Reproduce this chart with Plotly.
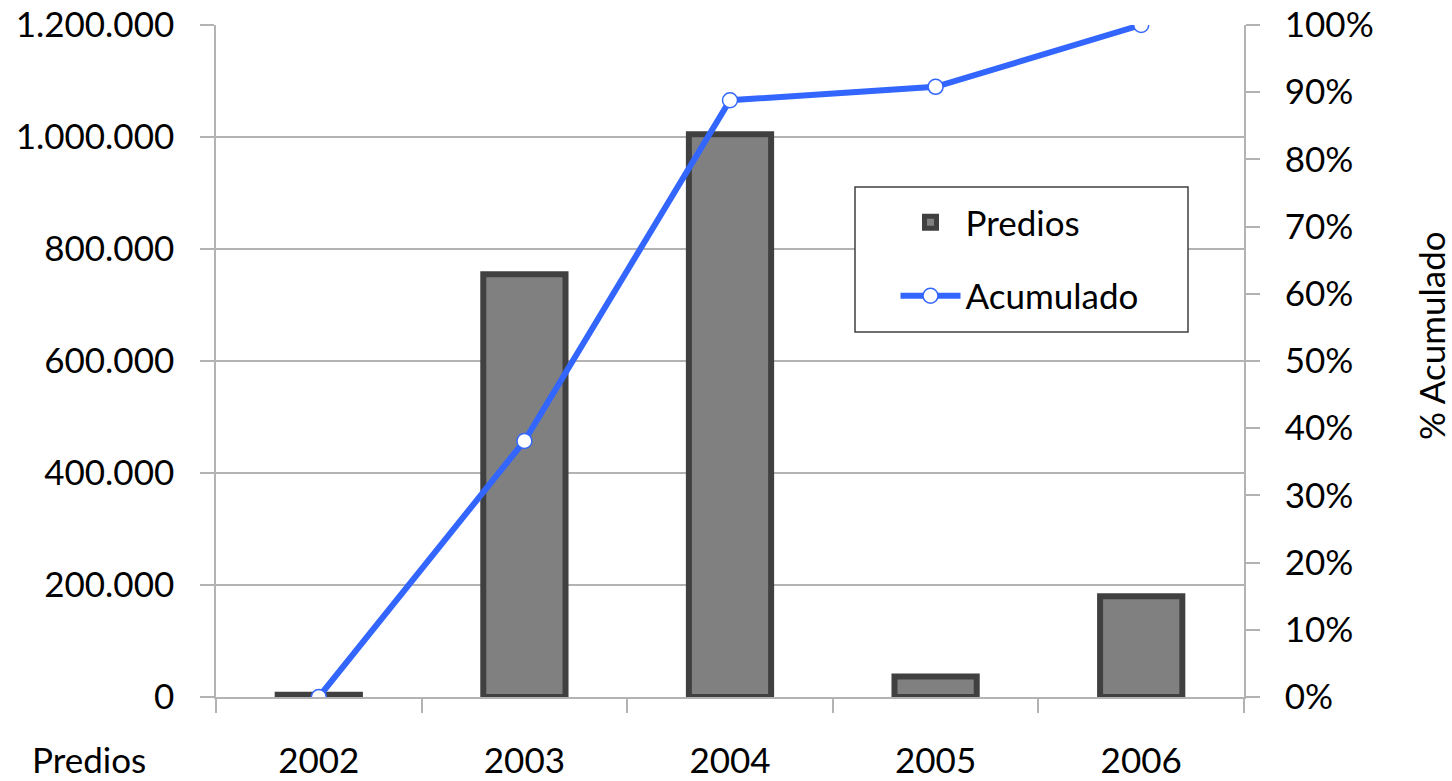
import plotly.graph_objects as go

years = ["2002", "2003", "2004", "2005", "2006"]
predios = [4000, 755000, 1005000, 36600, 180000]
acumulado = [0.0, 38.1, 88.8, 90.8, 100.0]

FONT = "Lato"
GRID = "#B3B3B3"
FS = 35

fig = go.Figure()
fig.add_trace(go.Bar(
    x=years, y=predios, name="Predios", width=0.4,
    marker=dict(color="#808080", line=dict(color="#404040", width=6)),
    legendgroup="a",
))
fig.add_trace(go.Scatter(
    x=years, y=acumulado, name="Acumulado", yaxis="y2", mode="lines+markers",
    line=dict(color="#3366FF", width=6),
    marker=dict(size=15, color="white", line=dict(color="#3366FF", width=1.5)),
    legendgroup="b",
))

fig.update_layout(
    width=1452, height=781,
    margin=dict(l=216, r=208, t=25, b=84, autoexpand=False),
    paper_bgcolor="white", plot_bgcolor="white",
    separators=",.",
    font=dict(family=FONT, size=FS, color="black"),
    showlegend=True,
    legend=dict(x=0.661, y=0.75, xanchor="left", yanchor="top",
                bgcolor="rgba(0,0,0,0)", borderwidth=0,
                font=dict(size=FS), tracegroupgap=25, itemwidth=60),
    xaxis=dict(type="category", range=[-0.5, 4.5], showline=True, linecolor=GRID,
               linewidth=1.5, ticks="outside", ticklen=14, tickcolor=GRID, tickwidth=1.5,
               tickson="boundaries", showgrid=False, ticklabelstandoff=32,
               automargin=False),
    yaxis=dict(range=[0, 1200000], dtick=200000, tickformat=",d", showline=True,
               linecolor=GRID, linewidth=1.5, ticks="outside", ticklen=14,
               tickcolor=GRID, tickwidth=1.5, showgrid=True, gridcolor=GRID,
               gridwidth=1.5, zeroline=False, ticklabelstandoff=19, automargin=False),
    yaxis2=dict(range=[0, 100], dtick=10, ticksuffix="%", overlaying="y", side="right",
                showline=True, linecolor=GRID, linewidth=1.5, ticks="outside",
                ticklen=14, tickcolor=GRID, tickwidth=1.5, showgrid=False,
                zeroline=False, ticklabelstandoff=18, automargin=False),
    shapes=[dict(type="rect", xref="paper", yref="paper",
                 x0=(855 - 216) / 1028, x1=(1188 - 216) / 1028,
                 y0=(697 - 332) / 672, y1=(697 - 187) / 672,
                 line=dict(color="#404040", width=1.5), fillcolor="white",
                 layer="above")],
    annotations=[
        dict(text="Predios", xref="paper", yref="paper", x=(30 - 216) / 1028,
             y=(697 - 759) / 672, xanchor="left", yanchor="middle",
             showarrow=False, font=dict(size=FS)),
        dict(text="% Acumulado", xref="paper", yref="paper", x=(1431 - 216) / 1028,
             y=(697 - 336) / 672, xanchor="center", yanchor="middle",
             textangle=-90, showarrow=False, font=dict(size=FS)),
    ],
)

fig.write_html("out.html", config={"displayModeBar": False},
               post_script="document.body.style.margin='0';document.body.style.overflow='hidden';")
